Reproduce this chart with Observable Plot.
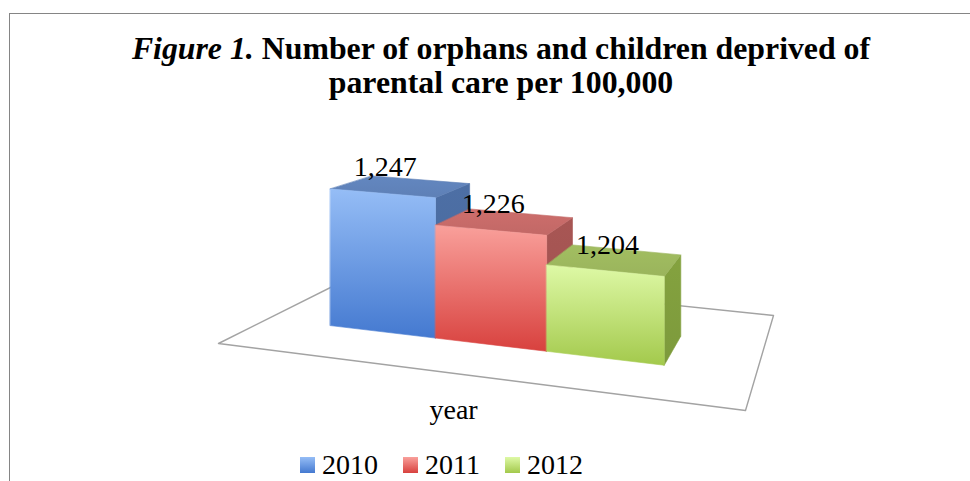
<!DOCTYPE html>
<html>
<head>
<meta charset="utf-8">
<script src="https://cdn.jsdelivr.net/npm/d3@7"></script>
<script src="https://cdn.jsdelivr.net/npm/@observablehq/plot@0.6"></script>
<style>
  html, body { margin: 0; padding: 0; }
  body { width: 970px; height: 481px; overflow: hidden; background: #fff; position: relative;
         font-family: "Liberation Serif", "DejaVu Serif", serif; color: #000; }
  #frame { position: absolute; left: 9px; top: 13px; width: 1000px; height: 540px;
           border: 1px solid #858585; box-sizing: border-box; }
  #title { position: absolute; left: 9px; width: 984px; top: 32px; text-align: center;
           font-weight: bold; font-size: 31.8px; line-height: 34px; }
  #title i { font-style: italic; }
  #chart { position: absolute; left: 0; top: 105px; }
  #legend { position: absolute; left: 300px; top: 450px; display: flex; align-items: center;
            font-size: 28px; line-height: 30px; }
  #legend .item { display: flex; align-items: center; margin-right: 25px; }
  #legend .sw { width: 15px; height: 16px; margin-right: 7px; }
</style>
</head>
<body>
<div id="frame"></div>
<div id="title"><i>Figure 1.</i> Number of orphans and children deprived of<br>parental care per 100,000</div>
<div id="chart"></div>
<div id="legend"></div>
<script>
// ---- data ----
const years = ["2010", "2011", "2012"];
const values = [1247, 1226, 1204];
const categoryLabel = "year";

// ---- style / view (not data) ----
const frontGrad = [["#95bdf6", "#4479d0"], ["#f9a09b", "#d8413e"], ["#def9a6", "#a3c94c"]];
const topColor = ["#5e80b6", "#c26866", "#9ab45c"];
const sideColor = ["#4d6fa5", "#a85654", "#84a23f"];
const baseValue = 1140;          // hidden value-axis minimum
const pxPerUnit = 1.364;         // vertical value scale at unit depth
// floor corners of the 3D view (front-left, front-right, back-right, back-left)
const floor = [[218, 343], [745, 410], [773, 315], [360, 272]];
const barStart = 0.14, barWidth = 0.23, depth0 = 0.30, depth1 = 0.62;

// homography unit square -> floor quad
const [[x0, y0], [x1, y1], [x2, y2], [x3, y3]] = floor;
const dx1 = x1 - x2, dx2 = x3 - x2, dx3 = x0 - x1 + x2 - x3;
const dy1 = y1 - y2, dy2 = y3 - y2, dy3 = y0 - y1 + y2 - y3;
const den = dx1 * dy2 - dx2 * dy1;
const G = (dx3 * dy2 - dx2 * dy3) / den, Hh = (dx1 * dy3 - dx3 * dy1) / den;
const A = x1 - x0 + G * x1, B = x3 - x0 + Hh * x3, C = x0;
const D = y1 - y0 + G * y1, E = y3 - y0 + Hh * y3, F = y0;
function project(u, v, val) {
  const w = G * u + Hh * v + 1;
  const t = val == null ? 0 : (val - baseValue) * pxPerUnit;
  return {x: (A * u + B * v + C) / w, y: (D * u + E * v + F) / w - t / w};
}

const floorPts = [[0, 0], [1, 0], [1, 1], [0, 1]].map(([u, v]) => project(u, v, null));

const marks = [
  Plot.line(floorPts, {x: "x", y: "y", curve: "linear-closed", stroke: "#a3a3a3", strokeWidth: 1.4, fill: "none"})
];
const labelData = [];
values.forEach((val, i) => {
  const ua = barStart + i * barWidth, ub = ua + barWidth;
  const side = [project(ub, depth0, null), project(ub, depth1, null), project(ub, depth1, val), project(ub, depth0, val)];
  const top = [project(ua, depth0, val), project(ub, depth0, val), project(ub, depth1, val), project(ua, depth1, val)];
  const front = [project(ua, depth0, null), project(ub, depth0, null), project(ub, depth0, val), project(ua, depth0, val)];
  marks.push(
    Plot.line(side, {x: "x", y: "y", curve: "linear-closed", fill: `url(#side${i})`, stroke: sideColor[i], strokeWidth: 0.6}),
    Plot.line(top, {x: "x", y: "y", curve: "linear-closed", fill: `url(#top${i})`, stroke: topColor[i], strokeWidth: 0.6}),
    Plot.line(front, {x: "x", y: "y", curve: "linear-closed", fill: `url(#front${i})`, stroke: `url(#front${i})`, strokeWidth: 0.6})
  );
  const uc = (ua + ub) / 2;
  const ft = project(uc, depth0, val);
  labelData.push({x: ft.x + 3, y: ft.y - 26, label: d3.format(",")(val)});
});
marks.push(
  Plot.text(labelData, {x: "x", y: "y", text: "label", fontSize: 28, fontFamily: "Liberation Serif", fill: "#000", textAnchor: "middle"})
);
const mid = project(0.5, 0, null);
marks.push(
  Plot.text([categoryLabel], {x: () => mid.x, y: () => mid.y, dx: -11, dy: 35, text: d => d, fontSize: 28, fontFamily: "Liberation Serif", fill: "#000"})
);

const chart = Plot.plot({
  width: 970,
  height: 340,
  margin: 0,
  x: {type: "linear", domain: [0, 970], range: [0, 970], axis: null},
  y: {type: "linear", domain: [105, 445], range: [0, 340], axis: null},
  style: {background: "transparent", overflow: "visible"},
  marks
});

// gradients
const svg = d3.select(chart);
const defs = svg.insert("defs", ":first-child");
function grad(id, c0, c1) {
  const g = defs.append("linearGradient").attr("id", id).attr("x1", 0).attr("y1", 0).attr("x2", 0).attr("y2", 1);
  g.append("stop").attr("offset", "0%").attr("stop-color", c0);
  g.append("stop").attr("offset", "100%").attr("stop-color", c1);
}
years.forEach((y, i) => {
  grad(`front${i}`, frontGrad[i][0], frontGrad[i][1]);
  grad(`top${i}`, d3.color(topColor[i]).brighter(0.15), topColor[i]);
  grad(`side${i}`, sideColor[i], d3.color(sideColor[i]).darker(0.15));
});
document.getElementById("chart").appendChild(chart);

// legend
const legend = d3.select("#legend");
years.forEach((y, i) => {
  const item = legend.append("div").attr("class", "item");
  item.append("div").attr("class", "sw").style("background", `linear-gradient(${frontGrad[i][0]}, ${frontGrad[i][1]})`);
  item.append("span").text(y);
});
</script>
</body>
</html>
